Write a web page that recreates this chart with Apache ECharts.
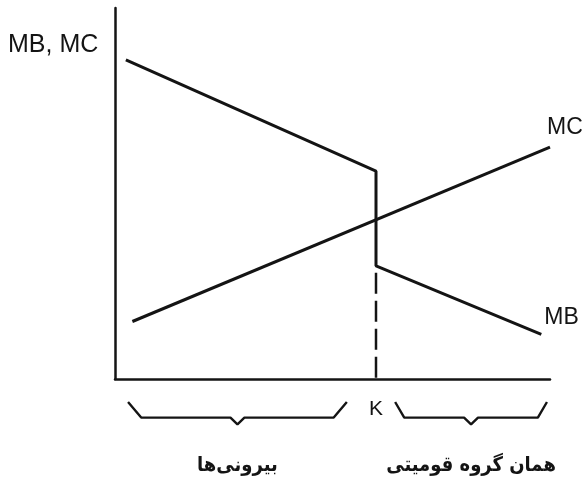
<!DOCTYPE html>
<html>
<head>
<meta charset="utf-8">
<style>
  html, body { margin: 0; padding: 0; background: #fff; }
  #chart { width: 585px; height: 480px; }
</style>
<script src="https://cdn.jsdelivr.net/npm/echarts@6/dist/echarts.min.js"></script>
</head>
<body>
<div id="chart"></div>
<script>
// Group size on the horizontal axis (0..100), K is the threshold
const kValue = 60;
const kLabel = 'K';

// Marginal benefit: falls, drops sharply at K, keeps falling
const mbPoints = [[2.5, 86], [60, 56], [60, 30.5], [98, 12]];
// Marginal cost: rises steadily
const mcPoints = [[4, 15.5], [100, 62.5]];

const axisTitle = 'MB, MC';
const mbName = 'MB';
const mcName = 'MC';

// Braces under the axis: [start, end] spans and their captions
const groupSpans = [[3, 53.3], [64.4, 99.3]];
const groupNames = ['بیرونی‌ها', 'همان گروه قومیتی'];

const ink = '#141414';
const latin = '"Liberation Sans", Arial, sans-serif';
const persian = '"DejaVu Sans Condensed", "DejaVu Sans", sans-serif';

// Build a curly-brace polyline for a span, opening upward, below the axis
function bracePath(span, top, depth, dip) {
  const [a, b] = span;
  const mid = (a + b) / 2;
  const edge = (b - a) * 0.06;
  const notch = 1.6;
  return [
    [a, top], [a + edge, top - depth],
    [mid - notch, top - depth], [mid, top - depth - dip],
    [mid + notch, top - depth], [b - edge, top - depth],
    [b, top]
  ];
}

// Invisible point markers so that per-point labels can be attached
const hiddenPoint = { symbol: 'circle', symbolSize: 0, showSymbol: true };

const braceSeries = groupSpans.map((span, i) => {
  const pts = bracePath(span, -6.2, 4.2, 1.8);
  return Object.assign({
    type: 'line',
    silent: true,
    clip: false,
    lineStyle: { color: ink, width: 2.4 },
    data: pts.map((p, j) => j === 3 ? {
      value: p,
      label: {
        show: true, position: 'bottom', distance: 32,
        formatter: groupNames[i],
        fontFamily: persian, fontWeight: 'bold', fontSize: 20, color: ink
      }
    } : p)
  }, hiddenPoint);
});

function endLabelled(points, name, offset) {
  return points.map((p, j) => j === points.length - 1 ? {
    value: p,
    label: {
      show: true, position: 'right', offset: offset, formatter: name,
      fontFamily: latin, fontSize: 23, color: ink
    }
  } : p);
}

const chart = echarts.init(document.getElementById('chart'), null, { renderer: 'canvas' });

chart.setOption({
  animation: false,
  backgroundColor: '#fff',
  grid: { left: 115, top: 8, width: 435, height: 371, containLabel: false },
  xAxis: {
    type: 'value', min: 0, max: 100, interval: kValue,
    axisLine: { lineStyle: { color: ink, width: 2.5 } },
    axisTick: { show: false },
    splitLine: { show: false },
    axisLabel: {
      margin: 20, fontFamily: latin, fontSize: 21, color: ink,
      formatter: v => v === kValue ? kLabel : ''
    }
  },
  yAxis: {
    type: 'value', min: 0, max: 100,
    axisLine: { show: true, lineStyle: { color: ink, width: 2.5 } },
    axisTick: { show: false },
    splitLine: { show: false },
    axisLabel: { show: false }
  },
  graphic: [{
    type: 'text', left: 8, top: 33,
    style: { text: axisTitle, font: '25px ' + latin, fill: ink }
  }],
  series: [
    Object.assign({
      name: mbName, type: 'line', clip: false,
      lineStyle: { color: ink, width: 3 },
      data: endLabelled(mbPoints, mbName, [-2, -17])
    }, hiddenPoint),
    Object.assign({
      name: mcName, type: 'line', clip: false,
      lineStyle: { color: ink, width: 3 },
      data: endLabelled(mcPoints, mcName, [-8, -19])
    }, hiddenPoint),
    {
      // Dashed drop line from the lower MB step down to the axis at K
      type: 'line', symbol: 'none', silent: true,
      lineStyle: { color: ink, width: 2.5, type: [21, 7], dashOffset: -7 },
      data: [[kValue, mbPoints[2][1]], [kValue, 0]]
    },
    ...braceSeries
  ]
});
</script>
</body>
</html>
